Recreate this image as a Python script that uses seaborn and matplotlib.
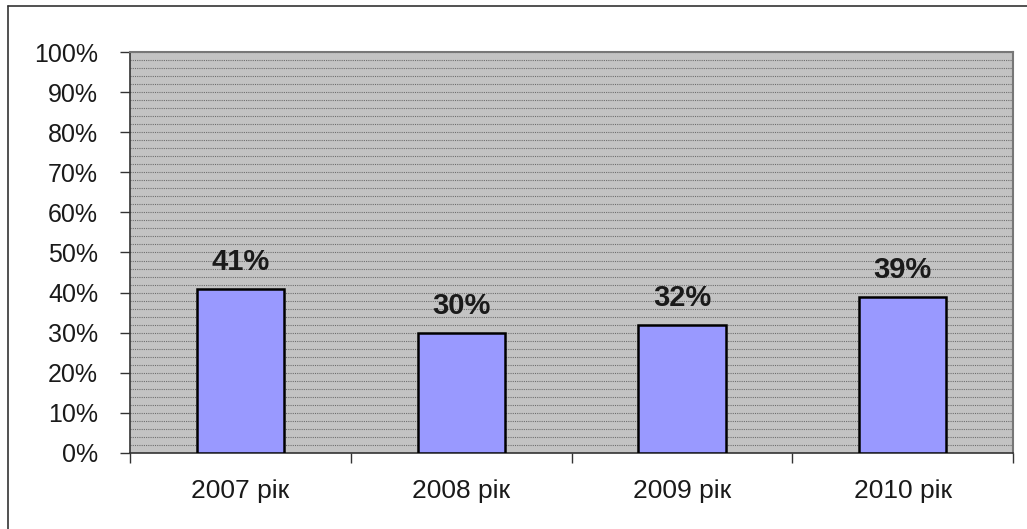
import matplotlib
matplotlib.use("Agg")
import matplotlib.pyplot as plt
import seaborn as sns
import pandas as pd
from matplotlib.ticker import MultipleLocator, PercentFormatter, FixedLocator
from matplotlib.lines import Line2D

# Дані
years = ['2007 рік', '2008 рік', '2009 рік', '2010 рік']
shares = [0.41, 0.30, 0.32, 0.39]
labels = ['41%', '30%', '32%', '39%']

df = pd.DataFrame({'year': years, 'share': shares})

sns.set_style('white')
plt.rcParams['font.family'] = ['Liberation Sans', 'DejaVu Sans']

fig = plt.figure(figsize=(10.27, 5.29), dpi=100)
ax = fig.add_axes([0.1266, 0.1437, 0.8598, 0.758])
ax.set_facecolor('#c3c3c3')

sns.barplot(data=df, x='year', y='share', color='#9999ff', width=0.395,
            edgecolor='black', linewidth=1.8, saturation=1, ax=ax, zorder=3)

for i, (v, lab) in enumerate(zip(shares, labels)):
    ax.text(i, v + 0.066, lab, ha='center', va='center', fontsize=21,
            fontweight='bold', color='#1a1a1a', zorder=4)

ax.set_ylim(0, 1)
ax.set_xlim(-0.5, len(years) - 0.5)
ax.yaxis.set_major_locator(MultipleLocator(0.1))
ax.yaxis.set_major_formatter(PercentFormatter(1.0, decimals=0))
ax.yaxis.set_minor_locator(MultipleLocator(0.02))
ax.grid(which='minor', axis='y', color='#6e6e6e', linestyle=(0, (1, 1)), linewidth=0.8, zorder=1)
ax.grid(which='major', axis='y', color='#6e6e6e', linestyle=(0, (1, 1)), linewidth=0.8, zorder=1)
ax.set_axisbelow(True)

# риски між категоріями
ax.xaxis.set_minor_locator(FixedLocator([-0.5, 0.5, 1.5, 2.5, 3.5]))
ax.tick_params(axis='x', which='major', length=0, pad=19, labelsize=19, colors='#1a1a1a')
ax.tick_params(axis='x', which='minor', length=7, width=1, color='#333333', direction='out', bottom=True)
ax.tick_params(axis='y', which='major', length=7, width=1, color='#333333', direction='out',
               left=True, labelsize=18, labelcolor='#1a1a1a', pad=16)
ax.tick_params(axis='y', which='minor', length=0)

ax.set_xlabel('')
ax.set_ylabel('')

for s in ['left', 'bottom']:
    ax.spines[s].set_color('#333333')
    ax.spines[s].set_linewidth(1.2)
for s in ['top', 'right']:
    ax.spines[s].set_color('#777777')
    ax.spines[s].set_linewidth(1.5)

# рамка діаграми
fig.add_artist(Line2D([8 / 1027, 1], [1 - 6 / 529, 1 - 6 / 529], transform=fig.transFigure,
                      color='#333333', linewidth=1.2))
fig.add_artist(Line2D([8 / 1027, 8 / 1027], [0, 1 - 6 / 529], transform=fig.transFigure,
                      color='#333333', linewidth=1.2))

fig.savefig('out.png', dpi=100)
